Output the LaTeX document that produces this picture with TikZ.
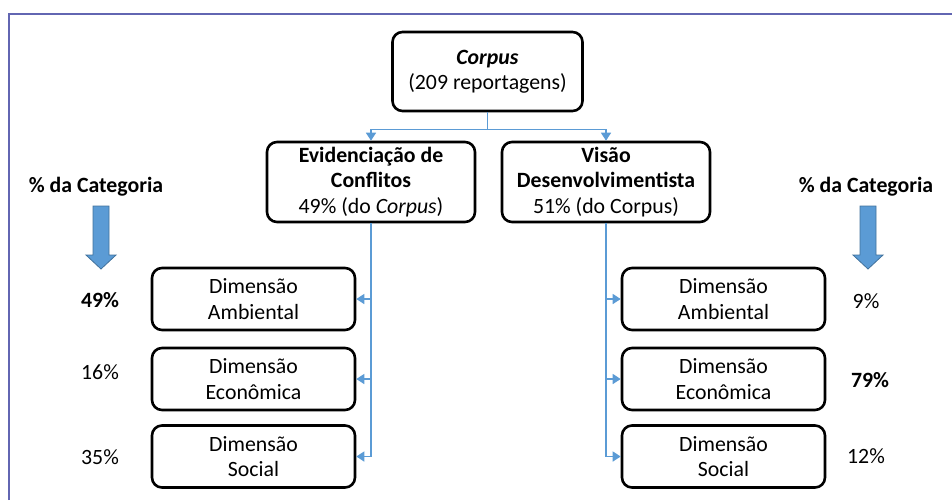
\documentclass[tikz,border=0pt]{standalone}
\usepackage{fontspec}
\setmainfont{Carlito}
\usetikzlibrary{arrows.meta}
\definecolor{framecol}{RGB}{98,102,178}
\definecolor{linkcol}{RGB}{91,155,213}
\definecolor{arrowedge}{RGB}{65,113,156}
\tikzset{
  every node/.style={font=\fontsize{10.9}{12.6}\selectfont},
  box/.style={draw, line width=1.3pt, rounded corners=5pt, align=center, inner sep=2pt},
  topbox/.style={box, minimum width=95pt, minimum height=39.5pt},
  midbox/.style={box, minimum width=104pt, minimum height=40pt},
  dimbox/.style={box, minimum width=101.5pt, minimum height=31pt},
  link/.style={draw=linkcol, line width=0.7pt, -{Triangle[width=5pt,length=4pt]}},
  bigarrow/.style={fill=linkcol, draw=arrowedge, line width=0.4pt}
}
\begin{document}
\begin{tikzpicture}[x=0.5pt,y=-0.5pt]
  \useasboundingbox (0,0) rectangle (952,500);
  % frame
  \draw[framecol, line width=1pt] (9,500) -- (9,14) -- (952,14);

  % root
  \node[topbox] (corpus) at (487.5,71.5) {\textbf{\textit{Corpus}}\\(209 reportagens)};
  % level 1
  \node[midbox] (evid) at (371,182) {\textbf{Evidenciação de}\\\textbf{Conflitos}\\49\% (do \textit{Corpus})};
  \node[midbox] (visao) at (606,182) {\textbf{Visão}\\\textbf{Desenvolvimentista}\\51\% (do Corpus)};
  % level 2, left
  \node[dimbox] (ambE) at (253.5,299) {Dimensão\\Ambiental};
  \node[dimbox] (ecoE) at (253.5,379) {Dimensão\\Econômica};
  \node[dimbox] (socE) at (253.5,456.5) {Dimensão\\Social};
  % level 2, right
  \node[dimbox] (ambV) at (723.5,299) {Dimensão\\Ambiental};
  \node[dimbox] (ecoV) at (723.5,379) {Dimensão\\Econômica};
  \node[dimbox] (socV) at (723.5,456.5) {Dimensão\\Social};

  % category percentages
  \node (catE) at (96,187) {\textbf{\% da Categoria}};
  \node (catV) at (866,187) {\textbf{\% da Categoria}};
  \node (pAmbE) at (100,300) {\textbf{49\%}};
  \node (pEcoE) at (100,372) {16\%};
  \node (pSocE) at (100,457) {35\%};
  \node (pAmbV) at (866,301) {9\%};
  \node (pEcoV) at (870,380) {\textbf{79\%}};
  \node (pSocV) at (866,456) {12\%};

  % big arrows
  \filldraw[bigarrow] (93,206) -- (109,206) -- (109,255) -- (116,255) -- (101,269) -- (86,255) -- (93,255) -- cycle;
  \filldraw[bigarrow] (860,206) -- (876,206) -- (876,255) -- (883,255) -- (868,269) -- (853,255) -- (860,255) -- cycle;

  % root to level 1
  \draw[link] (corpus.south) -- ++(0,17) -| (evid.north);
  \draw[link] (corpus.south) -- ++(0,17) -| (visao.north);

  % level 1 to level 2
  \draw[link] (evid.south) |- (ambE.east);
  \draw[link] (evid.south) |- (ecoE.east);
  \draw[link] (evid.south) |- (socE.east);
  \draw[link] (visao.south) |- (ambV.west);
  \draw[link] (visao.south) |- (ecoV.west);
  \draw[link] (visao.south) |- (socV.west);
\end{tikzpicture}
\end{document}
